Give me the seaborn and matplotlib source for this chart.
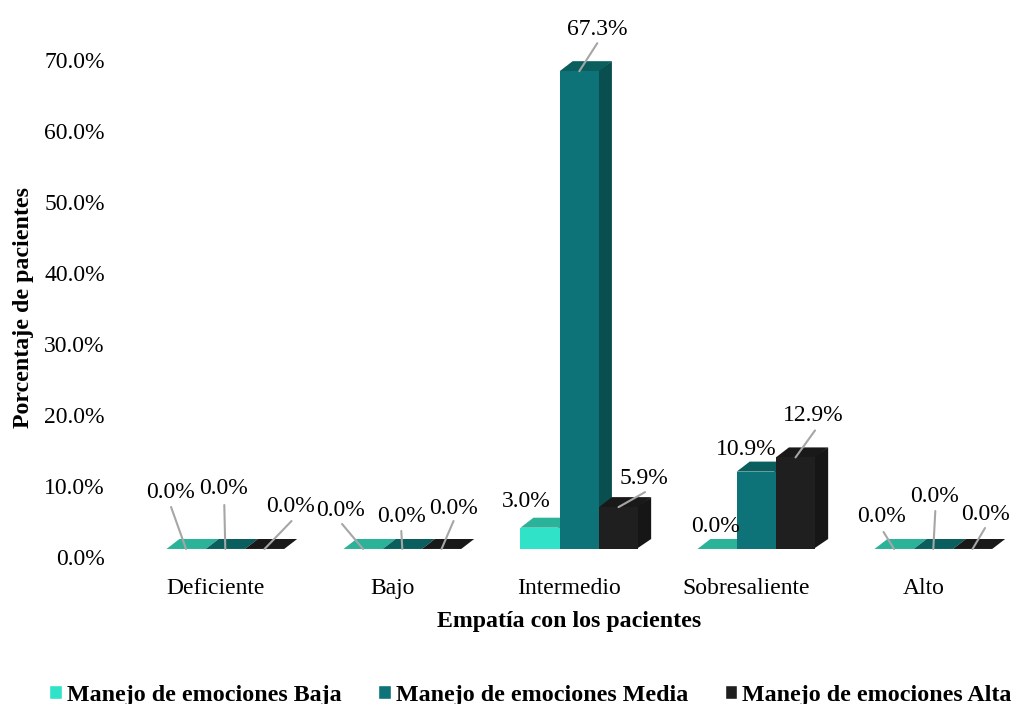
import matplotlib
matplotlib.use("Agg")
import matplotlib.pyplot as plt
from matplotlib.patches import Polygon, Patch
from matplotlib.transforms import ScaledTranslation
import pandas as pd
import seaborn as sns

categories = ["Deficiente", "Bajo", "Intermedio", "Sobresaliente", "Alto"]
series_names = ["Manejo de emociones Baja", "Manejo de emociones Media", "Manejo de emociones Alta"]
baja = [0.0, 0.0, 3.0, 0.0, 0.0]
media = [0.0, 0.0, 67.3, 10.9, 0.0]
alta = [0.0, 0.0, 5.9, 12.9, 0.0]
y_ticks = [0, 10, 20, 30, 40, 50, 60, 70]

front_colors = ["#30E3C8", "#0E7378", "#1F1F1F"]
top_colors = ["#2BB39A", "#0A5E5E", "#191919"]
side_colors = ["#25A08A", "#0A4F4F", "#161616"]

# Label and leader offsets in pixels from the top centre of each bar: (series, category)
label_offsets = [
    [(-16, 56), (-23, 39), (-13.5, 26), (-1.5, 23), (-12.5, 32)],
    [(-2, 60), (-1, 32), (18, 42), (-10, 22), (1, 52)],
    [(26, 42), (12, 40), (25.5, 29), (17.5, 42), (12.5, 35)],
]
leader_starts = [
    [(-15, 42), (-21, 25), None, None, (-10.5, 17)],
    [(-1, 44), (-1, 18), (18, 28), None, (2, 38)],
    [(27, 28), (12, 28), (26.5, 15), (19.5, 27), (12.5, 21)],
]

W, H = 1013, 704
DPI = 100
PX_PER_CAT = 177.0
PX_PER_UNIT = 7.1
DEPTH_X, DEPTH_Y = 13, 10
LEFT, BASE = 136.8, 549

sns.set_theme(style="white")
plt.rcParams["font.family"] = ["Liberation Serif", "DejaVu Serif"]
plt.rcParams["text.color"] = "#000000"
plt.rcParams["xtick.color"] = "#000000"
plt.rcParams["ytick.color"] = "#000000"

data = pd.DataFrame({
    "categoria": categories * 3,
    "serie": [s for s in series_names for _ in categories],
    "valor": baja + media + alta,
})

fig = plt.figure(figsize=(W / DPI, H / DPI), dpi=DPI)
ax = fig.add_axes([LEFT / W, 1 - BASE / H, (W - LEFT) / W, BASE / H])
sns.barplot(data=data, x="categoria", y="valor", hue="serie", order=categories,
            hue_order=series_names, palette=front_colors, width=0.665, gap=0,
            saturation=1, legend=False, ax=ax, errorbar=None)

ax.set_xlim(-0.5, -0.5 + (W - LEFT) / PX_PER_CAT)
ax.set_ylim(0, BASE / PX_PER_UNIT)
sns.despine(ax=ax, left=True, bottom=True)
ax.grid(False)
ax.patch.set_alpha(0)

# Extrude every bar with a side and a top face, working left to right
dx = DEPTH_X / PX_PER_CAT
dy = DEPTH_Y / PX_PER_UNIT
for s, container in enumerate(ax.containers):
    for c, bar in enumerate(container.patches):
        x0, w, h = bar.get_x(), bar.get_width(), bar.get_height()
        x1 = x0 + w
        order = 10 * (c + 1) + 3 * s
        bar.set_zorder(order + 2)
        bar.set_edgecolor("#BFE3DF" if h == 0 else "none")
        bar.set_linewidth(0.8)
        # The side face starts just under the front face so no seam shows between them
        seam = 0.01 if h > 0 else 0
        ax.add_patch(Polygon([(x1 - seam, 0), (x1 + dx, dy), (x1 + dx, h + dy), (x1 - seam, h)],
                             closed=True, fc=side_colors[s], ec="none", zorder=order))
        ax.add_patch(Polygon([(x0, h), (x0 + dx, h + dy), (x1 + dx, h + dy), (x1, h)],
                             closed=True, fc=top_colors[s], ec="none", zorder=order + 1))

        # Value label with its grey leader line
        anchor = (x0 + w / 2, h)
        start = leader_starts[s][c]
        if start is not None:
            ax.annotate("", xy=anchor, xytext=start, textcoords="offset pixels",
                        arrowprops=dict(arrowstyle="-", color="#A6A6A6", lw=1.5,
                                        shrinkA=0, shrinkB=0),
                        zorder=200, annotation_clip=False)
        ax.annotate(f"{h:.1f}%", xy=anchor, xytext=label_offsets[s][c],
                    textcoords="offset pixels", ha="center", va="center",
                    fontsize=17, zorder=210, annotation_clip=False)

ax.set_yticks(y_ticks)
ax.set_yticklabels([f"{t:.1f}%" for t in y_ticks], fontsize=17)
ax.tick_params(axis="y", length=0, pad=23)
ax.tick_params(axis="x", length=0, pad=21, labelsize=17)
ax.set_xticks(range(len(categories)))
ax.set_xticklabels(categories)

# Tick labels sit slightly off the bars' front plane
for label in ax.get_yticklabels():
    label.set_transform(label.get_transform() + ScaledTranslation(0, -8 / DPI, fig.dpi_scale_trans))
for label in ax.get_xticklabels():
    label.set_transform(label.get_transform() + ScaledTranslation(-10 / DPI, 0, fig.dpi_scale_trans))

ax.set_xlabel("")
ax.set_ylabel("")
fig.text(569.5 / W, 1 - 622 / H, "Empatía con los pacientes", ha="center", va="center",
         fontsize=17.2, fontweight="bold")
fig.text(24 / W, 1 - 308 / H, "Porcentaje de pacientes", ha="center", va="center",
         rotation=90, fontsize=17.2, fontweight="bold")

handles = [Patch(fc=col, label=name) for col, name in zip(front_colors, series_names)]
fig.legend(handles=handles, loc="center", bbox_to_anchor=(530.5 / W, 1 - 695 / H), ncol=3,
           frameon=False, prop={"size": 17.25, "weight": "bold"},
           handlelength=0.52, handleheight=0.52, handletextpad=0.2, columnspacing=1.55,
           borderpad=0, borderaxespad=0)

fig.savefig("out.png", dpi=DPI)
